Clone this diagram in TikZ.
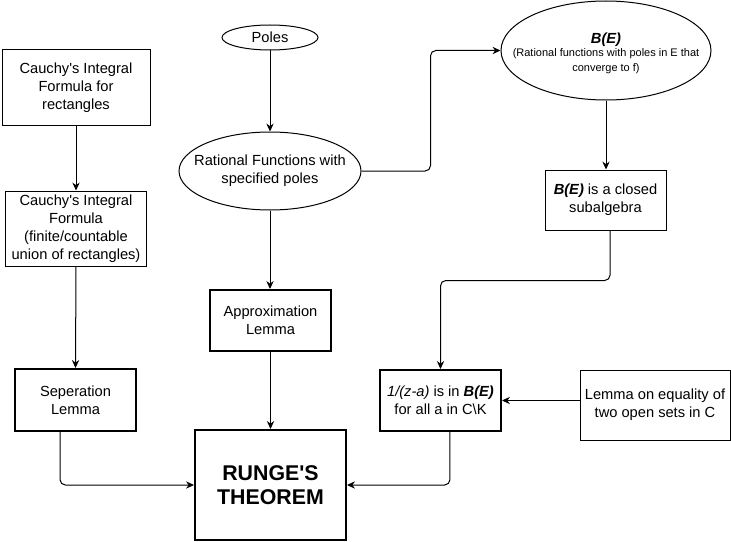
\documentclass[tikz,border=0pt]{standalone}
\usepackage{fontspec}
\setmainfont{Liberation Sans}
\usetikzlibrary{shapes.geometric,arrows.meta}
\begin{document}
\begin{tikzpicture}[x=0.75pt,y=-0.75pt,
  txt/.style={font=\fontsize{11}{13.4}\selectfont, align=center, inner sep=0pt},
  box/.style={draw=black, line width=0.75pt, rectangle, inner sep=0pt, txt},
  thickbox/.style={box, line width=1.5pt},
  oval/.style={draw=black, line width=0.75pt, ellipse, inner sep=0pt},
  conn/.style={line width=0.75pt, -{Stealth[length=6pt,width=5.5pt,inset=2pt]}, rounded corners=4pt}
]
\useasboundingbox[fill=white] (0,0) rectangle (731,542);

% left column
\node[box, minimum width=111pt, minimum height=56.25pt] (c1) at (76,87.5)
  {Cauchy\textquotesingle s Integral\\Formula for\\rectangles};
\node[box, minimum width=105.75pt, minimum height=56.25pt] (c2) at (76,228.5)
  {Cauchy\textquotesingle s Integral\\Formula\\(finite/countable\\union of rectangles)};
\node[thickbox, minimum width=90.75pt, minimum height=46.5pt] (sep) at (75.5,400)
  {Seperation\\Lemma};

% middle column
\node[oval, minimum width=72pt, minimum height=18.75pt] (poles) at (270,37.5) {};
\node[txt] (poles-t) at (poles) {Poles};
\node[oval, minimum width=136.5pt, minimum height=58.5pt] (rat) at (270,171) {};
\node[txt] (rat-t) at (rat) {Rational Functions with\\specified poles};
\node[thickbox, minimum width=90.75pt, minimum height=45.75pt] (app) at (270.5,320.5)
  {Approximation\\Lemma};
\node[thickbox, minimum width=113.25pt, minimum height=82.5pt,
  font=\fontsize{16}{17.5}\selectfont\bfseries] (runge) at (270.5,485)
  {RUNGE\textquotesingle S\\THEOREM};

% right column
\node[oval, minimum width=157.5pt, minimum height=74.25pt] (be) at (606,50.5) {};
\node[txt] (be-t) at (606,40) {\textbf{\textit{B(E)}}};
\node[txt, font=\fontsize{8.25}{11.25}\selectfont] (be-s) at (606,61)
  {(Rational functions with poles in E that\\converge to f)};
\node[box, minimum width=90.75pt, minimum height=45pt] (sub) at (605.5,200)
  {\textbf{\textit{B(E)}} is a closed\\subalgebra};
\node[thickbox, minimum width=90.75pt, minimum height=45.75pt] (inv) at (440.5,400.5)
  {\textit{1/(z-a)} is in \textbf{\textit{B(E)}}\\for all a in C\textbackslash K};
\node[box, minimum width=112.5pt, minimum height=52.5pt] (lem) at (655,405)
  {Lemma on equality of\\two open sets in C};

% connectors
\draw[conn] (c1.south) -- (c2.north);
\draw[conn] (c2.south) -- (sep.north);
\draw[conn] (poles.south) -- (rat.north);
\draw[conn] (rat.east) -- ++(69,0) |- (be.west);
\draw[conn] (be.south) -- (be.south |- sub.north);
\draw[conn] ([xshift=3.4pt]sub.south) -- ++(0,50) -| (inv.north);
\draw[conn] (lem.west |- inv.east) -- (inv.east);
\draw[conn] ([xshift=7.1pt]inv.south) |- (runge.east);
\draw[conn] ([xshift=-11.6pt]sep.south) |- (runge.west);
\draw[conn] (rat.south) -- (rat.south |- app.north);
\draw[conn] (app.south) -- (app.south |- runge.north);
\end{tikzpicture}
\end{document}
